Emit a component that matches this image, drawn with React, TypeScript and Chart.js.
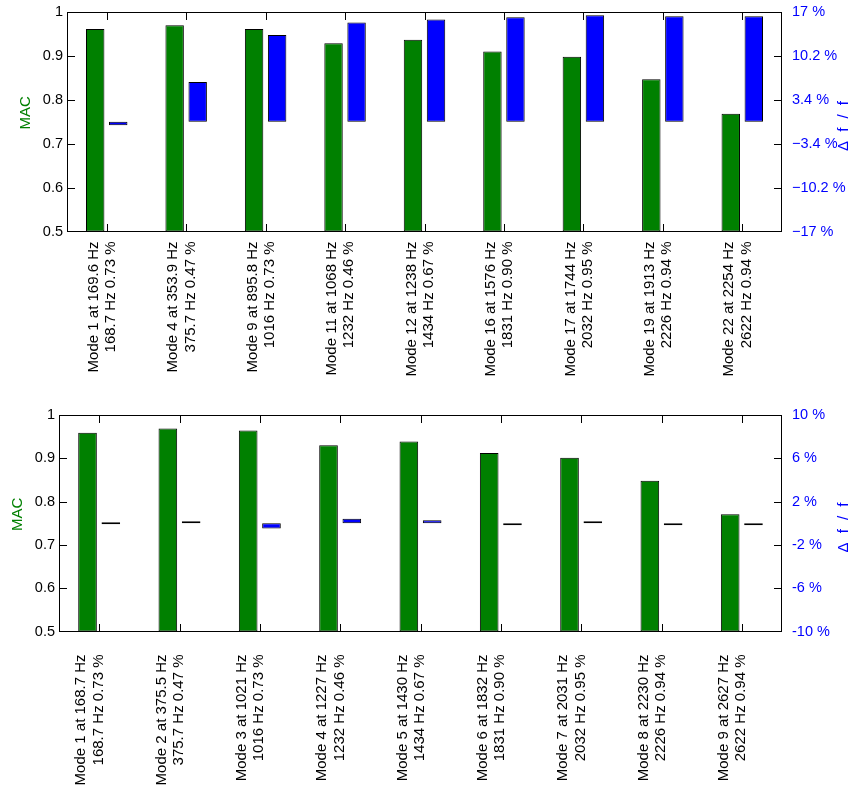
import React, { useEffect, useRef } from 'react';
import { Chart, registerables } from 'chart.js';

Chart.register(...registerables);

const FONT = "'Liberation Sans', Arial, Helvetica, sans-serif";

// ---------- data: top chart ----------
const topLabels: string[][] = [
  ['Mode 1 at 169.6 Hz', '168.7 Hz 0.73 %'],
  ['Mode 4 at 353.9 Hz', '375.7 Hz 0.47 %'],
  ['Mode 9 at 895.8 Hz', '1016 Hz 0.73 %'],
  ['Mode 11 at 1068 Hz', '1232 Hz 0.46 %'],
  ['Mode 12 at 1238 Hz', '1434 Hz 0.67 %'],
  ['Mode 16 at 1576 Hz', '1831 Hz 0.90 %'],
  ['Mode 17 at 1744 Hz', '2032 Hz 0.95 %'],
  ['Mode 19 at 1913 Hz', '2226 Hz 0.94 %'],
  ['Mode 22 at 2254 Hz', '2622 Hz 0.94 %'],
];
const topMac = [0.961, 0.970, 0.961, 0.929, 0.937, 0.910, 0.898, 0.847, 0.768];
const topDelta = [-0.53, 6.16, 13.42, 15.36, 15.83, 16.18, 16.51, 16.36, 16.33];
const topDeltaTicks = [-17, -10.2, -3.4, 3.4, 10.2, 17];
const topDeltaTickLabels = ['\u221217 %', '\u221210.2 %', '\u22123.4 %', '3.4 %', '10.2 %', '17 %'];

// ---------- data: bottom chart ----------
const bottomLabels: string[][] = [
  ['Mode 1 at 168.7 Hz', '168.7 Hz 0.73 %'],
  ['Mode 2 at 375.5 Hz', '375.7 Hz 0.47 %'],
  ['Mode 3 at 1021 Hz', '1016 Hz 0.73 %'],
  ['Mode 4 at 1227 Hz', '1232 Hz 0.46 %'],
  ['Mode 5 at 1430 Hz', '1434 Hz 0.67 %'],
  ['Mode 6 at 1832 Hz', '1831 Hz 0.90 %'],
  ['Mode 7 at 2031 Hz', '2032 Hz 0.95 %'],
  ['Mode 8 at 2230 Hz', '2226 Hz 0.94 %'],
  ['Mode 9 at 2627 Hz', '2622 Hz 0.94 %'],
];
const bottomMac = [0.959, 0.969, 0.964, 0.930, 0.939, 0.912, 0.901, 0.848, 0.771];
const bottomDelta = [0, 0.05, -0.49, 0.41, 0.28, -0.05, 0.05, -0.18, -0.19];
const bottomDeltaTicks = [-10, -6, -2, 2, 6, 10];
const bottomDeltaTickLabels = ['-10 %', '-6 %', '-2 %', '2 %', '6 %', '10 %'];

// ---------- shared ----------
const macTicks = [0.5, 0.6, 0.7, 0.8, 0.9, 1];
const macTickLabels = ['0.5', '0.6', '0.7', '0.8', '0.9', '1'];
const leftTitle = 'MAC';
const rightTitle = '\u0394 f / f';

const GREEN = '#008000';
const BLUE = '#0000ff';
const CANVAS_W = 850;
const CANVAS_H = 397;

function drawFrame(chart: any) {
  const ctx: CanvasRenderingContext2D = chart.ctx;
  const a = chart.chartArea;
  const scales = chart.scales;
  const tl = 7;
  const L = Math.round(a.left);
  const R = Math.round(a.right) - 1;
  const T = Math.round(a.top);
  const B = Math.round(a.bottom) - 1;
  ctx.save();
  ctx.fillStyle = '#000000';
  ctx.fillRect(L, T, R - L + 1, 1);
  ctx.fillRect(L, B, R - L + 1, 1);
  ctx.fillRect(L, T, 1, B - T + 1);
  ctx.fillRect(R, T, 1, B - T + 1);
  const xs = scales.x;
  const yl = scales.y;
  const yr = scales.y1;
  xs.ticks.forEach((t: any) => {
    const px = Math.round(xs.getPixelForValue(t.value));
    ctx.fillRect(px, B - tl, 1, tl);
    ctx.fillRect(px, T + 1, 1, tl);
  });
  yl.ticks.forEach((t: any) => {
    const py = Math.round(yl.getPixelForValue(t.value));
    ctx.fillRect(L + 1, Math.min(py, B), tl, 1);
  });
  yr.ticks.forEach((t: any) => {
    const py = Math.round(yr.getPixelForValue(t.value));
    ctx.fillRect(R - tl, Math.min(py, B), tl, 1);
  });
  ctx.restore();
}

function drawTitles(chart: any) {
  const ctx: CanvasRenderingContext2D = chart.ctx;
  const a = chart.chartArea;
  const mid = (a.top + a.bottom) / 2;
  ctx.save();
  ctx.font = `15px ${FONT}`;
  ctx.textAlign = 'center';
  ctx.textBaseline = 'middle';
  ctx.fillStyle = GREEN;
  ctx.translate(a.left - 41, mid - 9);
  ctx.rotate(-Math.PI / 2);
  ctx.fillText(leftTitle, 0, 0);
  ctx.restore();
  ctx.save();
  ctx.font = `15px ${FONT}`;
  (ctx as any).letterSpacing = '2.5px';
  ctx.textAlign = 'center';
  ctx.textBaseline = 'middle';
  ctx.fillStyle = BLUE;
  ctx.translate(a.right + 61.5, mid + 3);
  ctx.rotate(-Math.PI / 2);
  ctx.fillText(rightTitle, 0, 0);
  ctx.restore();
}

const framePlugin = {
  id: 'frame',
  afterDraw(chart: any) {
    drawTitles(chart);
    drawFrame(chart);
  },
};

function noPadding(scale: any) {
  scale.paddingTop = 0;
  scale.paddingBottom = 0;
  scale.paddingLeft = 0;
  scale.paddingRight = 0;
}

interface Spec {
  labels: string[][];
  mac: number[];
  delta: number[];
  deltaTicks: number[];
  deltaTickLabels: string[];
  deltaMin: number;
  deltaMax: number;
  padTop: number;
  leftW: number;
  rightW: number;
  xH: number;
  xPad: number;
  labelOffset: number;
}

function buildConfig(s: Spec): any {
  const xs = s.labels.map((_, i) => i + 1);
  return {
    type: 'bar',
    data: {
      datasets: [
        {
          data: xs.map((x, i) => ({ x, y: s.mac[i] })),
          yAxisID: 'y',
          backgroundColor: GREEN,
          borderColor: '#000',
          borderWidth: 1,
          borderSkipped: false,
          base: 0.5,
          categoryPercentage: 0.58,
          barPercentage: 0.8,
        },
        {
          data: xs.map((x, i) => ({ x, y: s.delta[i] })),
          yAxisID: 'y1',
          backgroundColor: BLUE,
          borderColor: '#000',
          borderWidth: 1,
          borderSkipped: false,
          base: 0,
          minBarLength: 2,
          categoryPercentage: 0.58,
          barPercentage: 0.8,
        },
      ],
    },
    options: {
      animation: false,
      responsive: false,
      devicePixelRatio: 1,
      layout: { padding: { top: s.padTop, left: 0, right: 0, bottom: 0 } },
      plugins: { legend: { display: false }, tooltip: { enabled: false }, title: { display: false } },
      scales: {
        x: {
          type: 'linear',
          min: 0.5,
          max: xs.length + 0.5,
          offset: false,
          grid: { display: false, drawTicks: false },
          border: { display: false },
          afterBuildTicks: (scale: any) => {
            scale.ticks = xs.map((v) => ({ value: v }));
          },
          afterFit: (scale: any) => {
            scale.height = s.xH;
            noPadding(scale);
          },
          ticks: {
            autoSkip: false,
            minRotation: 90,
            maxRotation: 90,
            padding: s.xPad,
            labelOffset: s.labelOffset,
            color: '#000',
            font: { family: FONT, size: 15, lineHeight: 1.15 },
            callback: (_v: any, i: number) => s.labels[i],
          },
        },
        y: {
          type: 'linear',
          position: 'left',
          min: 0.5,
          max: 1,
          grid: { display: false, drawTicks: false },
          border: { display: false },
          afterBuildTicks: (scale: any) => {
            scale.ticks = macTicks.map((v) => ({ value: v }));
          },
          afterFit: (scale: any) => {
            scale.width = s.leftW;
            noPadding(scale);
          },
          ticks: {
            padding: 4,
            color: '#000',
            font: { family: FONT, size: 14.5 },
            callback: (_v: any, i: number) => macTickLabels[i],
          },
        },
        y1: {
          type: 'linear',
          position: 'right',
          min: s.deltaMin,
          max: s.deltaMax,
          grid: { display: false, drawTicks: false },
          border: { display: false },
          afterBuildTicks: (scale: any) => {
            scale.ticks = s.deltaTicks.map((v) => ({ value: v }));
          },
          afterFit: (scale: any) => {
            scale.width = s.rightW;
            noPadding(scale);
          },
          ticks: {
            padding: 10,
            color: BLUE,
            font: { family: FONT, size: 14.5 },
            callback: (_v: any, i: number) => s.deltaTickLabels[i],
          },
        },
      },
    },
    plugins: [framePlugin],
  };
}

export default function App() {
  const topRef = useRef<HTMLCanvasElement>(null);
  const bottomRef = useRef<HTMLCanvasElement>(null);

  useEffect(() => {
    const top = new Chart(
      topRef.current as HTMLCanvasElement,
      buildConfig({
        labels: topLabels,
        mac: topMac,
        delta: topDelta,
        deltaTicks: topDeltaTicks,
        deltaTickLabels: topDeltaTickLabels,
        deltaMin: -17,
        deltaMax: 17,
        padTop: 12,
        leftW: 67,
        rightW: 68,
        xH: CANVAS_H - 231.5,
        xPad: 10,
        labelOffset: -13,
      })
    );
    const bottom = new Chart(
      bottomRef.current as HTMLCanvasElement,
      buildConfig({
        labels: bottomLabels,
        mac: bottomMac,
        delta: bottomDelta,
        deltaTicks: bottomDeltaTicks,
        deltaTickLabels: bottomDeltaTickLabels,
        deltaMin: -10,
        deltaMax: 10,
        padTop: 18,
        leftW: 59,
        rightW: 68,
        xH: CANVAS_H - 234.5,
        xPad: 23,
        labelOffset: -18,
      })
    );
    return () => {
      top.destroy();
      bottom.destroy();
    };
  }, []);

  return (
    <div style={{ position: 'absolute', left: 0, top: 0, width: CANVAS_W, height: CANVAS_H * 2, background: '#fff' }}>
      <canvas ref={topRef} width={CANVAS_W} height={CANVAS_H} style={{ display: 'block', width: CANVAS_W, height: CANVAS_H }} />
      <canvas ref={bottomRef} width={CANVAS_W} height={CANVAS_H} style={{ display: 'block', width: CANVAS_W, height: CANVAS_H }} />
    </div>
  );
}
